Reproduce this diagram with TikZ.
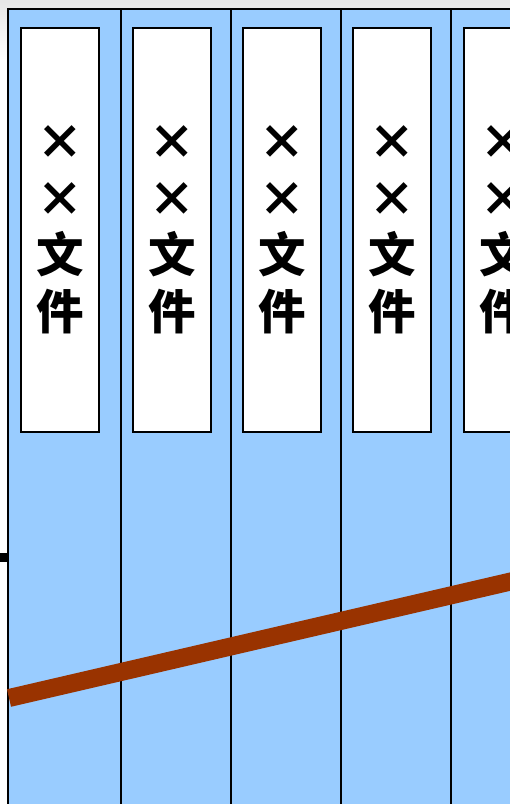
\documentclass[tikz,border=0pt]{standalone}
\usepackage{fontspec}
\usepackage{tikz}
\usetikzlibrary{positioning}
\newfontfamily\cjk{Noto Sans CJK SC}
\definecolor{binderblue}{HTML}{99CCFF}
\definecolor{rodbrown}{HTML}{993300}

\begin{document}
\begin{tikzpicture}[x=0.02cm,y=-0.02cm,
  binder/.style={draw,fill=binderblue,line width=0.9pt,anchor=north west,minimum height=17cm,inner sep=0pt},
  spine/.style={draw,fill=white,line width=0.9pt,anchor=north west,minimum width=1.56cm,minimum height=8.08cm,inner sep=0pt,
    align=center,font=\cjk\bfseries\fontsize{27pt}{32.4pt}\selectfont}]
\useasboundingbox (0,0) rectangle (510,804);
\clip (0,0) rectangle (510,804);
\fill[white] (0,0) rectangle (510,804);
\shade[top color=black!10,bottom color=white] (0,0) rectangle (510,60);
\node[binder,minimum width=2.26cm] (b1) at (7,8) {};
\node[binder,minimum width=2.2cm] (b2) at (120,8) {};
\node[binder,minimum width=2.2cm] (b3) at (230,8) {};
\node[binder,minimum width=2.2cm] (b4) at (340,8) {};
\node[binder,minimum width=2.2cm] (b5) at (450,8) {};
\node[spine] (f1) at (20,27) {×\\×\\文\\件};
\node[spine] (f2) at (132,27) {×\\×\\文\\件};
\node[spine] (f3) at (242,27) {×\\×\\文\\件};
\node[spine] (f4) at (352,27) {×\\×\\文\\件};
\node[spine] (f5) at (463,27) {×\\×\\文\\件};
\fill (0,553) rectangle (7,562);
\draw[rodbrown,line width=0.36cm] (9,698) -- (530,577);
\end{tikzpicture}
\end{document}
